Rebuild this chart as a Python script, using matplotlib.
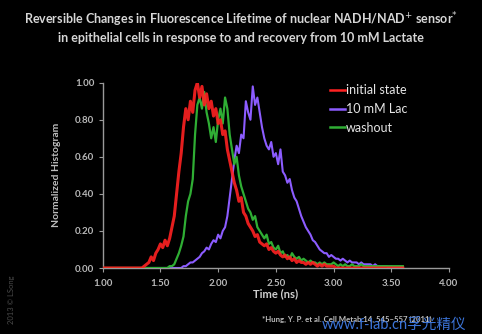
import numpy as np
import matplotlib
matplotlib.use("Agg")
import matplotlib.pyplot as plt

plt.rcParams['font.family'] = ['Lato', 'Noto Sans CJK SC', 'DejaVu Sans']

# Lifetime bins (ns)
time_ns = np.round(np.arange(1.00, 3.601, 0.02), 2)

initial_state = [
    0, 0, 0, 0, 0, 0, 0, 0, 0, 0, 0, 0, 0, 0, 0,
    0, 0, 0, 0.01, 0.02,
    0.03, 0.06, 0.04, 0.08, 0.10,
    0.13, 0.11, 0.15, 0.12, 0.16,
    0.22, 0.28, 0.40, 0.52, 0.62,
    0.76, 0.86, 0.80, 0.90, 0.84,
    0.96, 1.00, 0.92, 0.98, 0.88,
    0.94, 0.86, 0.90, 0.82, 0.86,
    0.78, 0.80, 0.72, 0.74, 0.64,
    0.58, 0.52, 0.46, 0.42, 0.36,
    0.38, 0.30, 0.28, 0.24, 0.22,
    0.20, 0.17, 0.18, 0.14, 0.13,
    0.12, 0.13, 0.10, 0.11, 0.09,
    0.08, 0.09, 0.07, 0.06, 0.07,
    0.05, 0.06, 0.04, 0.05, 0.03,
    0.04, 0.03, 0.03, 0.02, 0.03,
    0.02, 0.03, 0.02, 0.01, 0.02,
    0.01, 0.02, 0.01, 0.01, 0.01,
    0.01, 0, 0, 0, 0,
    0, 0, 0, 0, 0,
    0, 0, 0, 0, 0,
    0, 0, 0, 0, 0,
    0, 0, 0, 0, 0,
    0, 0, 0, 0, 0,
    0,
]

lactate_10mM = [
    0, 0, 0, 0, 0, 0, 0, 0, 0, 0, 0, 0, 0, 0, 0,
    0, 0, 0, 0, 0,
    0, 0, 0, 0, 0,
    0, 0, 0, 0, 0,
    0, 0, 0, 0, 0,
    0.01, 0.01, 0.02, 0.03, 0.03,
    0.04, 0.05, 0.06, 0.08, 0.09,
    0.11, 0.10, 0.13, 0.15, 0.14,
    0.18, 0.16, 0.20, 0.22, 0.28,
    0.38, 0.48, 0.58, 0.66, 0.62,
    0.72, 0.70, 0.90, 0.84, 0.80,
    0.98, 0.88, 0.92, 0.84, 0.76,
    0.70, 0.66, 0.64, 0.68, 0.60,
    0.62, 0.56, 0.64, 0.52, 0.50,
    0.46, 0.48, 0.42, 0.38, 0.36,
    0.32, 0.28, 0.25, 0.22, 0.20,
    0.18, 0.15, 0.14, 0.12, 0.10,
    0.09, 0.08, 0.08, 0.06, 0.07,
    0.06, 0.05, 0.05, 0.04, 0.05,
    0.04, 0.03, 0.04, 0.03, 0.03,
    0.03, 0.02, 0.03, 0.02, 0.02,
    0.02, 0.02, 0.01, 0.02, 0.01,
    0.01, 0.01, 0.01, 0.01, 0.0,
    0.01, 0, 0, 0, 0,
    0,
]

washout = [
    0, 0, 0, 0, 0, 0, 0, 0, 0, 0, 0, 0, 0, 0, 0,
    0, 0, 0, 0, 0,
    0, 0, 0, 0, 0,
    0, 0, 0, 0, 0.01,
    0.01, 0.02, 0.05, 0.08, 0.12,
    0.17, 0.28, 0.36, 0.40, 0.48,
    0.72, 0.88, 0.92, 0.86, 0.95,
    0.84, 0.78, 0.70, 0.76, 0.68,
    0.80, 0.86, 0.78, 0.92, 0.86,
    0.72, 0.64, 0.56, 0.60, 0.50,
    0.44, 0.40, 0.36, 0.32, 0.30,
    0.26, 0.28, 0.22, 0.20, 0.18,
    0.16, 0.18, 0.13, 0.14, 0.11,
    0.10, 0.12, 0.08, 0.09, 0.06,
    0.07, 0.05, 0.08, 0.06, 0.05,
    0.06, 0.04, 0.05, 0.04, 0.03,
    0.04, 0.03, 0.03, 0.02, 0.03,
    0.02, 0.03, 0.02, 0.02, 0.02,
    0.03, 0.02, 0.01, 0.02, 0.01,
    0.02, 0.01, 0.01, 0.02, 0.01,
    0.01, 0.01, 0.02, 0.01, 0.01,
    0.01, 0.01, 0.01, 0.01, 0.01,
    0.01, 0.01, 0.01, 0.01, 0.01,
    0.01, 0.01, 0.01, 0.01, 0.01,
    0.01,
]

series_labels = ["initial state", "10 mM Lac", "washout"]
series_colors = ["#ff2222", "#8c5cff", "#2fae34"]
x_ticks = [1.00, 1.50, 2.00, 2.50, 3.00, 3.50, 4.00]
y_ticks = [0.00, 0.20, 0.40, 0.60, 0.80, 1.00]

W, H = 482, 334
fig = plt.figure(figsize=(W / 100, H / 100), dpi=100, facecolor="black")
ax = fig.add_axes([102.7 / W, (H - 268) / H, 346.3 / W, 185.3 / H])
ax.set_facecolor("black")

tick_color = "#b8b8b8"
ax.plot(time_ns, lactate_10mM, color=series_colors[1], lw=1.5, zorder=2)
ax.plot(time_ns, washout, color=series_colors[2], lw=1.6, zorder=3)
ax.plot(time_ns, initial_state, color=series_colors[0], lw=2.2, alpha=0.9, zorder=4)

ax.set_xlim(1.0, 4.0)
ax.set_ylim(0, 1.0)
ax.set_xticks(x_ticks)
ax.set_xticklabels([f"{v:.2f}" for v in x_ticks])
ax.set_yticks(y_ticks)
ax.set_yticklabels([f"{v:.2f}" for v in y_ticks])
for s in ["top", "right"]:
    ax.spines[s].set_visible(False)
for s in ["left", "bottom"]:
    ax.spines[s].set_color("#9a9a9a")
    ax.spines[s].set_linewidth(1.0)
ax.tick_params(colors="#9a9a9a", labelcolor=tick_color, labelsize=7, length=3, width=0.8, pad=3)
ax.tick_params(axis="x", pad=5)
for lab in ax.get_xticklabels() + ax.get_yticklabels():
    lab.set_fontweight("bold")

ax.set_xlabel("Time (ns)", color="#cfcfcf", fontsize=8, fontweight="bold", labelpad=0)
ax.set_ylabel("Normalized Histogram", color="#bdbdbd", fontsize=7.5, fontweight="bold", labelpad=10)

# legend
from matplotlib.lines import Line2D
handles = [Line2D([], [], color=c, lw=1.8) for c in series_colors]
leg = fig.legend(handles, series_labels, loc="upper left",
                 bbox_to_anchor=(330 / W, 1 - 84 / H), frameon=False,
                 fontsize=9, handlelength=1.2, handletextpad=0.1,
                 labelspacing=0.55, borderpad=0, borderaxespad=0)
for t in leg.get_texts():
    t.set_color("#e6e6e6")

fig.text(0.5, 1 - 20 / H, "Reversible Changes in Fluorescence Lifetime of nuclear NADH/NAD$^{+}$ sensor$^{*}$",
         ha="center", va="center", color="#d6d6d6", fontsize=9.0, fontweight="bold")
fig.text(0.5, 1 - 38 / H, "in epithelial cells in response to and recovery from 10 mM Lactate",
         ha="center", va="center", color="#d6d6d6", fontsize=9.0, fontweight="bold")

fig.text(262 / W, 1 - 319 / H, "*Hung, Y. P. et al. Cell Metab 14, 545\u2013557 (2011)",
         ha="left", va="center", color="#bdbdbd", fontsize=5.6, fontweight="bold")
fig.text(12 / W, 1 - 300 / H, "2013 \u00a9 LSong", rotation=90, ha="center", va="center",
         color="#4a4a4a", fontsize=5.5)
fig.text(322 / W, 1 - 325 / H, "www.f-lab.cn孚光精仪", ha="left", va="center",
         color="#3b74d8", fontsize=10.5)

fig.savefig("out.png", dpi=100, facecolor="black")
